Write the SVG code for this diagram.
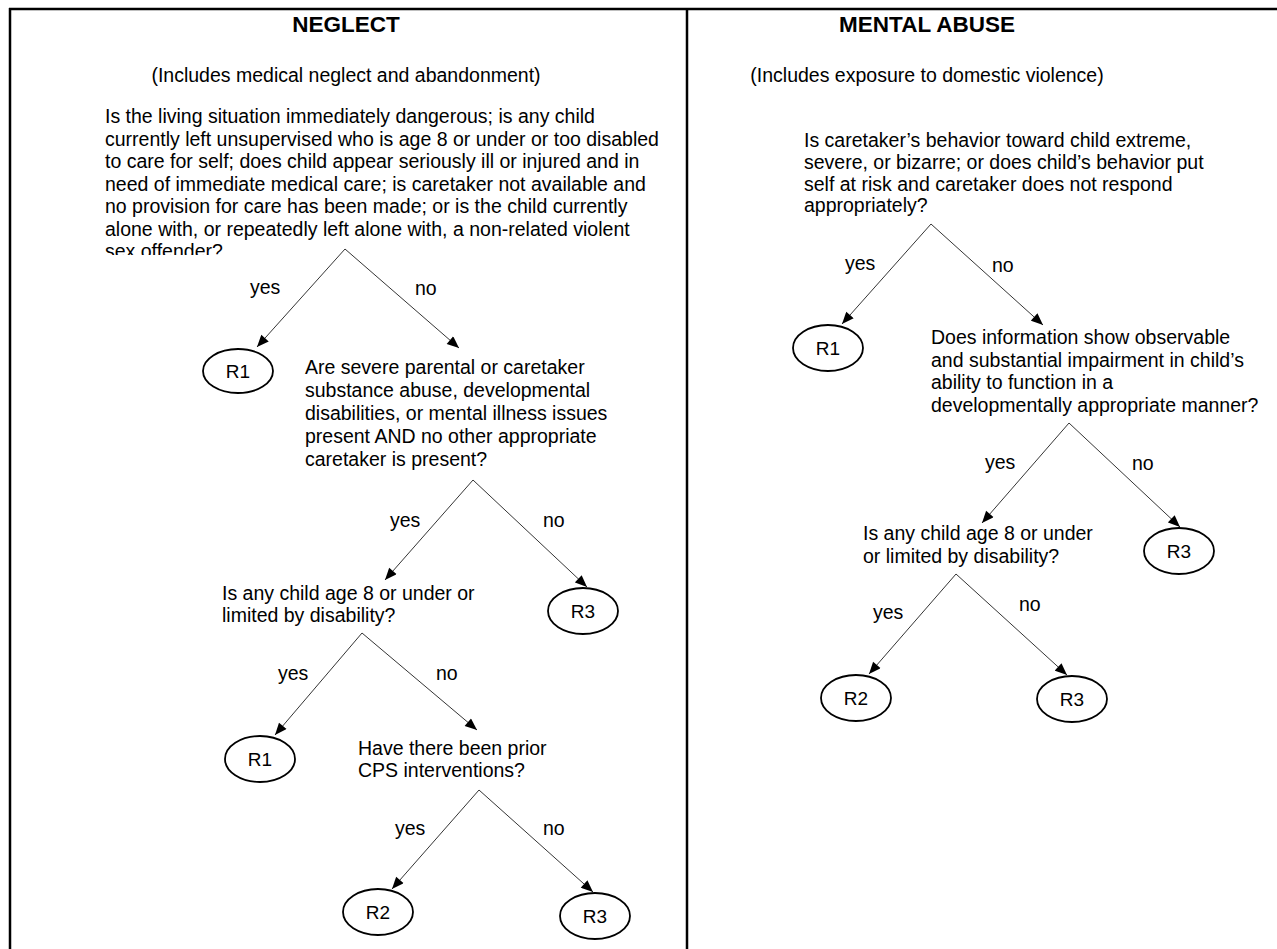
<svg xmlns="http://www.w3.org/2000/svg" width="1277" height="949" viewBox="0 0 1277 949">
<style>
text{font-family:"Liberation Sans",Arial,sans-serif;fill:#000;font-size:19.5px}
.t{font-size:22.5px;font-weight:bold;text-anchor:middle}
.s{text-anchor:middle}
.r{text-anchor:middle;font-size:19px}
.e{fill:#fff;stroke:#000;stroke-width:1.8}
.c{stroke:#000;stroke-width:0.8;fill:none}
.f{stroke:#000;stroke-width:2.5}
</style>
<defs>
<marker id="ah" viewBox="0 0 12 10" refX="12" refY="5" markerWidth="13" markerHeight="10" markerUnits="userSpaceOnUse" orient="auto">
<path d="M0,0 L12,5 L0,10 Z" fill="#000"/>
</marker>
<clipPath id="clip1"><rect x="0" y="0" width="687" height="255"/></clipPath>
</defs>
<rect width="1277" height="949" fill="#fff"/>
<g id="frame">
<line class="f" x1="9" y1="9" x2="1277" y2="9"/>
<line class="f" x1="10" y1="8" x2="10" y2="949"/>
<line class="f" x1="687" y1="8" x2="687" y2="949"/>
</g>
<g id="neglect-header">
<text class="t" x="346" y="32">NEGLECT</text>
<text class="s" x="346" y="82">(Includes medical neglect and abandonment)</text>
</g>
<g id="n-q1" clip-path="url(#clip1)">
<text><tspan x="105" y="123">Is the living situation immediately dangerous; is any child</tspan><tspan x="105" y="145.5">currently left unsupervised who is age 8 or under or too disabled</tspan><tspan x="105" y="168">to care for self; does child appear seriously ill or injured and in</tspan><tspan x="105" y="190.5">need of immediate medical care; is caretaker not available and</tspan><tspan x="105" y="213">no provision for care has been made; or is the child currently</tspan><tspan x="105" y="235.5">alone with, or repeatedly left alone with, a non-related violent</tspan><tspan x="105" y="258">sex offender?</tspan></text>
</g>
<g id="n-r1a"><ellipse class="e" cx="238" cy="371" rx="35" ry="22"/><text class="r" x="238" y="378">R1</text></g>
<g id="n-q2"><text><tspan x="305" y="374">Are severe parental or caretaker</tspan><tspan x="305" y="397">substance abuse, developmental</tspan><tspan x="305" y="420">disabilities, or mental illness issues</tspan><tspan x="305" y="443">present AND no other appropriate</tspan><tspan x="305" y="466">caretaker is present?</tspan></text></g>
<g id="n-r3a"><ellipse class="e" cx="583" cy="611" rx="35" ry="23"/><text class="r" x="583" y="618">R3</text></g>
<g id="n-q3"><text><tspan x="222" y="600">Is any child age 8 or under or</tspan><tspan x="222" y="622">limited by disability?</tspan></text></g>
<g id="n-r1b"><ellipse class="e" cx="260" cy="759" rx="35" ry="23"/><text class="r" x="260" y="766">R1</text></g>
<g id="n-q4"><text><tspan x="358" y="755">Have there been prior</tspan><tspan x="358" y="777">CPS interventions?</tspan></text></g>
<g id="n-r2a"><ellipse class="e" cx="378" cy="912" rx="35" ry="23"/><text class="r" x="378" y="919">R2</text></g>
<g id="n-r3b"><ellipse class="e" cx="595" cy="916" rx="35" ry="23"/><text class="r" x="595" y="923">R3</text></g>

<g id="mental-header">
<text class="t" x="927" y="32">MENTAL ABUSE</text>
<text class="s" x="927" y="82">(Includes exposure to domestic violence)</text>
</g>
<g id="m-q1"><text><tspan x="804" y="147">Is caretaker’s behavior toward child extreme,</tspan><tspan x="804" y="169">severe, or bizarre; or does child’s behavior put</tspan><tspan x="804" y="190.5">self at risk and caretaker does not respond</tspan><tspan x="804" y="212">appropriately?</tspan></text></g>
<g id="m-r1"><ellipse class="e" cx="828" cy="348" rx="35" ry="23"/><text class="r" x="828" y="355">R1</text></g>
<g id="m-q2"><text><tspan x="931" y="344">Does information show observable</tspan><tspan x="931" y="366.5">and substantial impairment in child’s</tspan><tspan x="931" y="389">ability to function in a</tspan><tspan x="931" y="411.5">developmentally appropriate manner?</tspan></text></g>
<g id="m-r3a"><ellipse class="e" cx="1179" cy="551" rx="35" ry="23"/><text class="r" x="1179" y="558">R3</text></g>
<g id="m-q3"><text><tspan x="863" y="540">Is any child age 8 or under</tspan><tspan x="863" y="563">or limited by disability?</tspan></text></g>
<g id="m-r2"><ellipse class="e" cx="856" cy="698" rx="35" ry="23"/><text class="r" x="856" y="705">R2</text></g>
<g id="m-r3b"><ellipse class="e" cx="1072" cy="699" rx="35" ry="23"/><text class="r" x="1072" y="706">R3</text></g>

<g id="connectors">
<path class="c" d="M345,249 L257,347" marker-end="url(#ah)"/>
<path class="c" d="M345,249 L459,348" marker-end="url(#ah)"/>
<path class="c" d="M473,480 L385,580" marker-end="url(#ah)"/>
<path class="c" d="M473,480 L587,587" marker-end="url(#ah)"/>
<path class="c" d="M362,633 L275,735" marker-end="url(#ah)"/>
<path class="c" d="M362,633 L477,730" marker-end="url(#ah)"/>
<path class="c" d="M479,790 L392,889" marker-end="url(#ah)"/>
<path class="c" d="M479,790 L593,892" marker-end="url(#ah)"/>
<path class="c" d="M931,224 L842,324" marker-end="url(#ah)"/>
<path class="c" d="M931,224 L1043,325" marker-end="url(#ah)"/>
<path class="c" d="M1069,423 L982,523" marker-end="url(#ah)"/>
<path class="c" d="M1069,423 L1180,527" marker-end="url(#ah)"/>
<path class="c" d="M956,574 L869,674" marker-end="url(#ah)"/>
<path class="c" d="M956,574 L1067,675" marker-end="url(#ah)"/>
</g>
<g id="labels">
<text x="250" y="294">yes</text>
<text x="415" y="295">no</text>
<text x="390" y="527">yes</text>
<text x="543" y="527">no</text>
<text x="278" y="680">yes</text>
<text x="436" y="680">no</text>
<text x="395" y="835">yes</text>
<text x="543" y="835">no</text>
<text x="845" y="270">yes</text>
<text x="992" y="272">no</text>
<text x="985" y="469">yes</text>
<text x="1132" y="470">no</text>
<text x="873" y="619">yes</text>
<text x="1019" y="611">no</text>
</g>
</svg>
